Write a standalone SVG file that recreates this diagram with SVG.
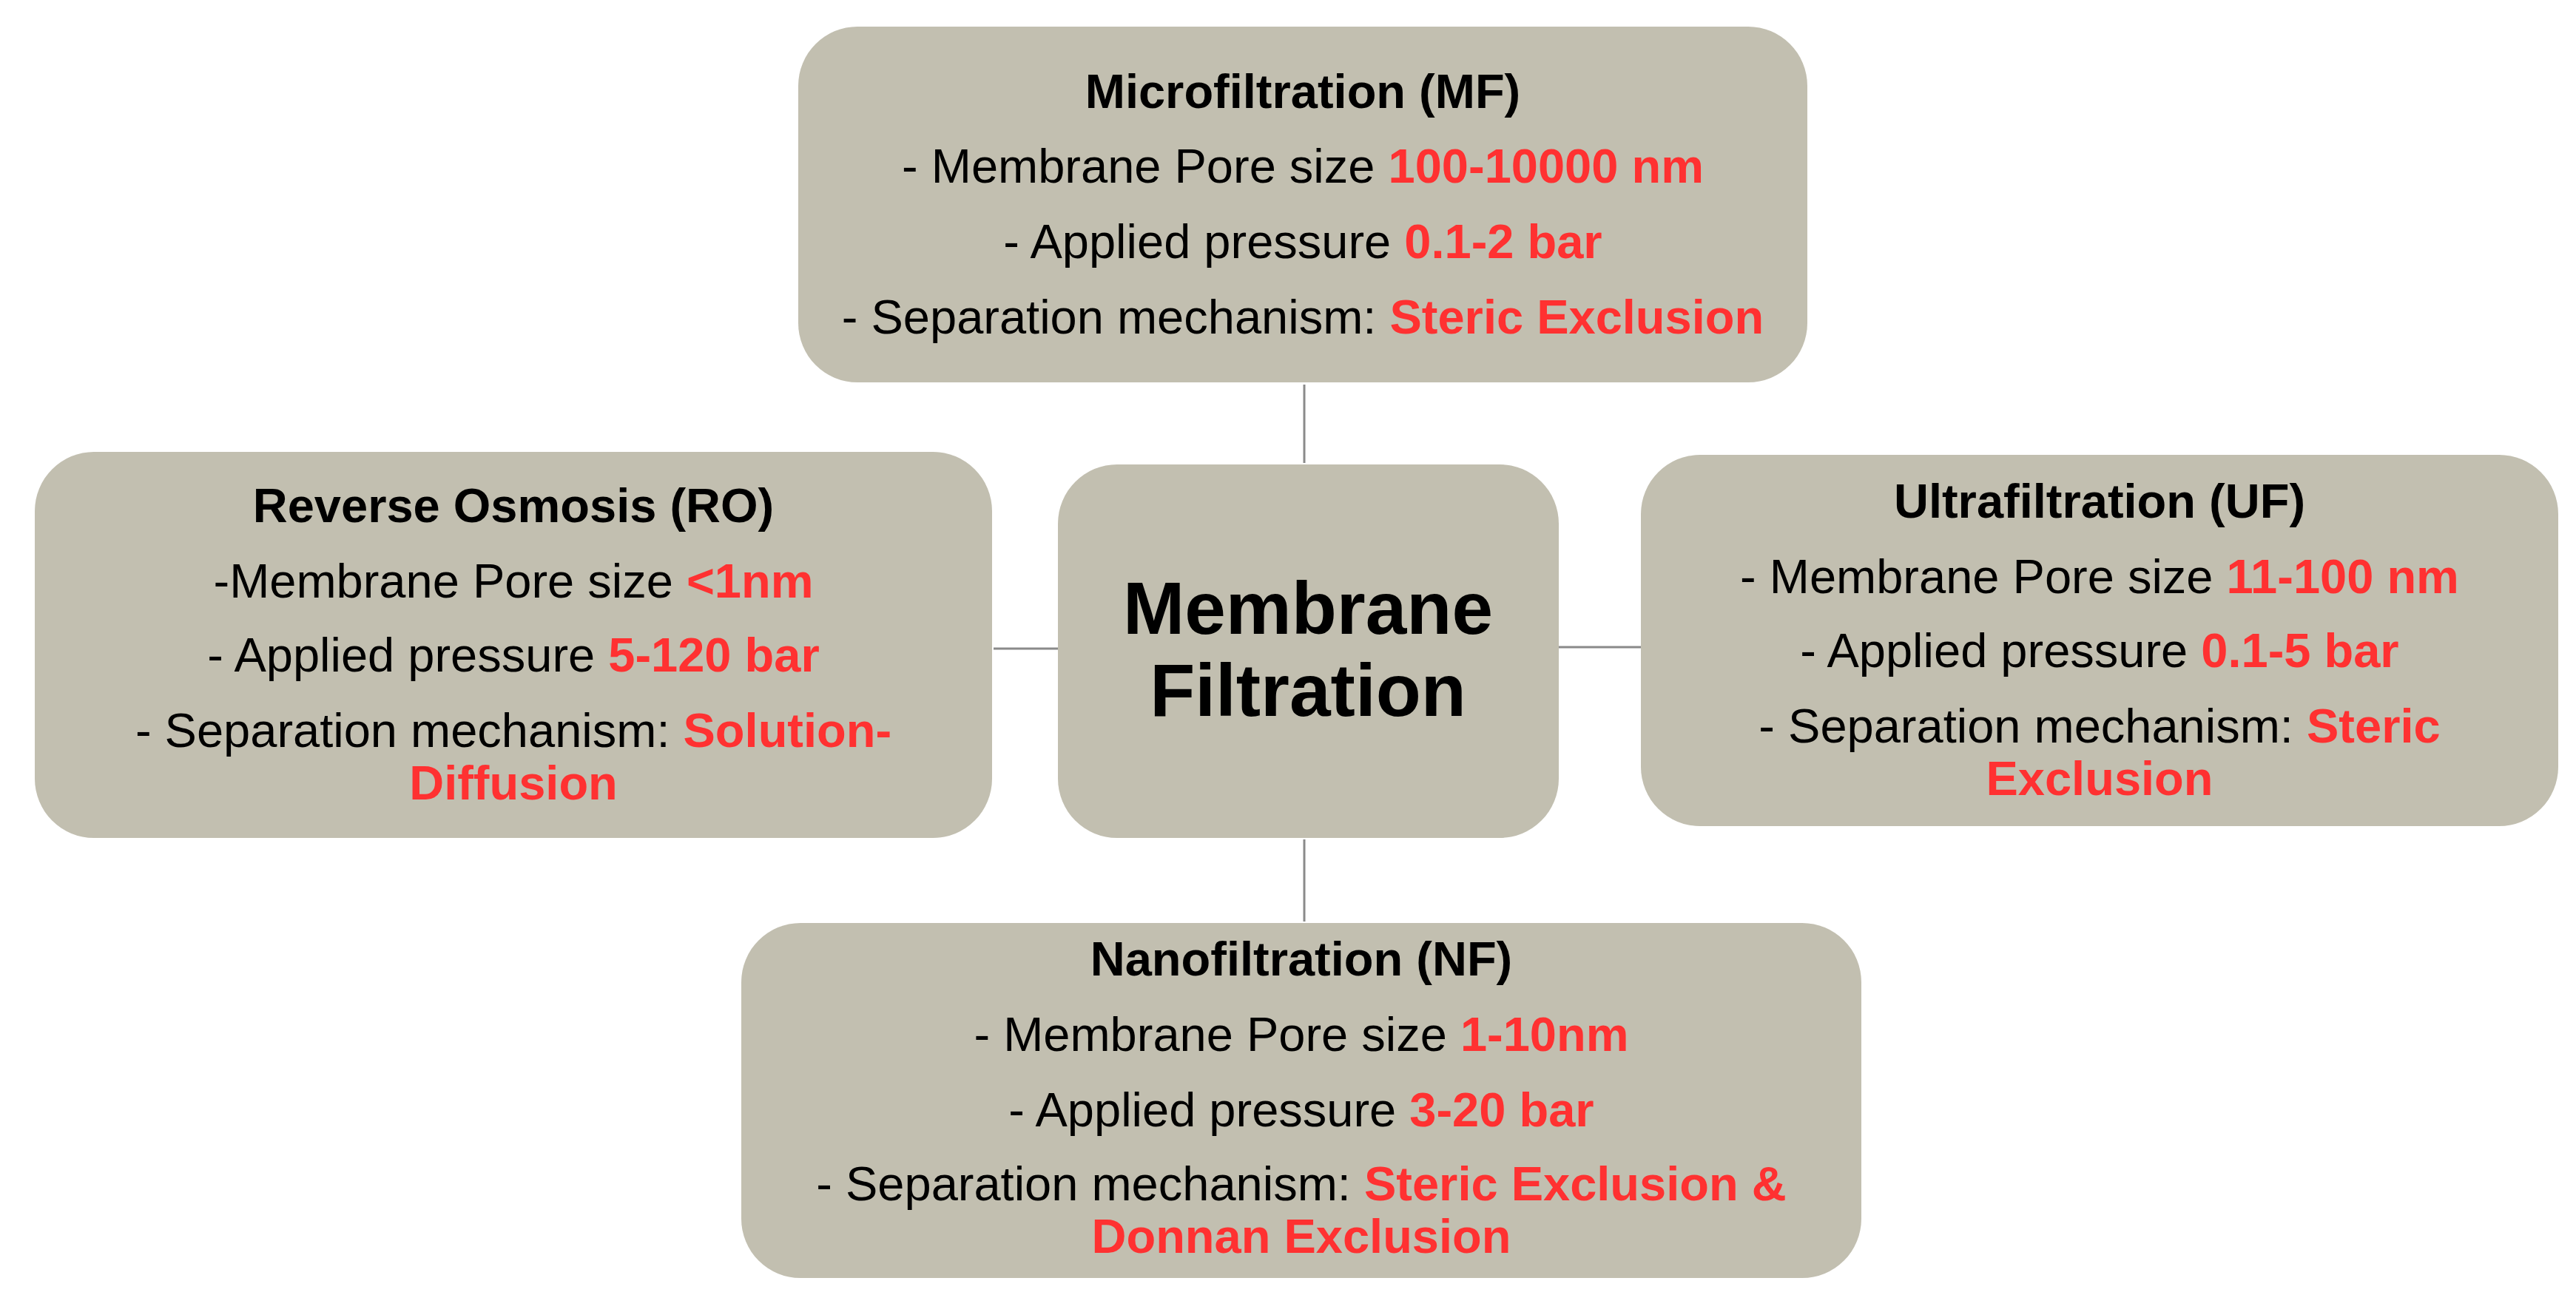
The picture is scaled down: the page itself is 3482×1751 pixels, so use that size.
<svg xmlns="http://www.w3.org/2000/svg" width="3482" height="1751" viewBox="0 0 3482 1751">
<style>
.box{fill:#c2bfb0;}
.t{font-family:"Liberation Sans",Arial,sans-serif;font-size:65px;fill:#000;text-anchor:middle;}
.b{font-weight:bold;}
.r{fill:#ff3131;font-weight:bold;}
.big{font-size:100px;font-weight:bold;}
.c{stroke:#8a8a8a;stroke-width:3;fill:none;}
</style>
<rect width="3482" height="1751" fill="#ffffff"/>
<g id="connectors">
<line class="c" x1="1763" y1="520" x2="1763" y2="626"/>
<line class="c" x1="1763" y1="1135" x2="1763" y2="1246"/>
<line class="c" x1="1343" y1="877" x2="1430" y2="877"/>
<line class="c" x1="2107" y1="875" x2="2218" y2="875"/>
</g>
<g id="mf">
<rect class="box" x="1079" y="36" width="1364" height="481" rx="80"/>
<text class="t b" x="1761" y="146">Microfiltration (MF)</text>
<text class="t" x="1761" y="247">- Membrane Pore size <tspan class="r">100-10000 nm</tspan></text>
<text class="t" x="1761" y="349">- Applied pressure <tspan class="r">0.1-2 bar</tspan></text>
<text class="t" x="1761" y="451">- Separation mechanism: <tspan class="r">Steric Exclusion</tspan></text>
</g>
<g id="ro">
<rect class="box" x="47" y="611" width="1294" height="522" rx="80"/>
<text class="t b" x="694" y="706">Reverse Osmosis (RO)</text>
<text class="t" x="694" y="808">-Membrane Pore size <tspan class="r">&lt;1nm</tspan></text>
<text class="t" x="694" y="908">- Applied pressure <tspan class="r">5-120 bar</tspan></text>
<text class="t" x="694" y="1010">- Separation mechanism: <tspan class="r">Solution-</tspan></text>
<text class="t r" x="694" y="1081">Diffusion</text>
</g>
<g id="center">
<rect class="box" x="1430" y="628" width="677" height="505" rx="80"/>
<text class="t big" x="1768" y="857">Membrane</text>
<text class="t big" x="1768" y="968">Filtration</text>
</g>
<g id="uf">
<rect class="box" x="2218" y="615" width="1240" height="502" rx="80"/>
<text class="t b" x="2838" y="700">Ultrafiltration (UF)</text>
<text class="t" x="2838" y="802">- Membrane Pore size <tspan class="r">11-100 nm</tspan></text>
<text class="t" x="2838" y="902">- Applied pressure <tspan class="r">0.1-5 bar</tspan></text>
<text class="t" x="2838" y="1004">- Separation mechanism: <tspan class="r">Steric</tspan></text>
<text class="t r" x="2838" y="1075">Exclusion</text>
</g>
<g id="nf">
<rect class="box" x="1002" y="1248" width="1514" height="480" rx="80"/>
<text class="t b" x="1759" y="1319">Nanofiltration (NF)</text>
<text class="t" x="1759" y="1421">- Membrane Pore size <tspan class="r">1-10nm</tspan></text>
<text class="t" x="1759" y="1523">- Applied pressure <tspan class="r">3-20 bar</tspan></text>
<text class="t" x="1759" y="1623">- Separation mechanism: <tspan class="r">Steric Exclusion &amp;</tspan></text>
<text class="t r" x="1759" y="1694">Donnan Exclusion</text>
</g>
</svg>
